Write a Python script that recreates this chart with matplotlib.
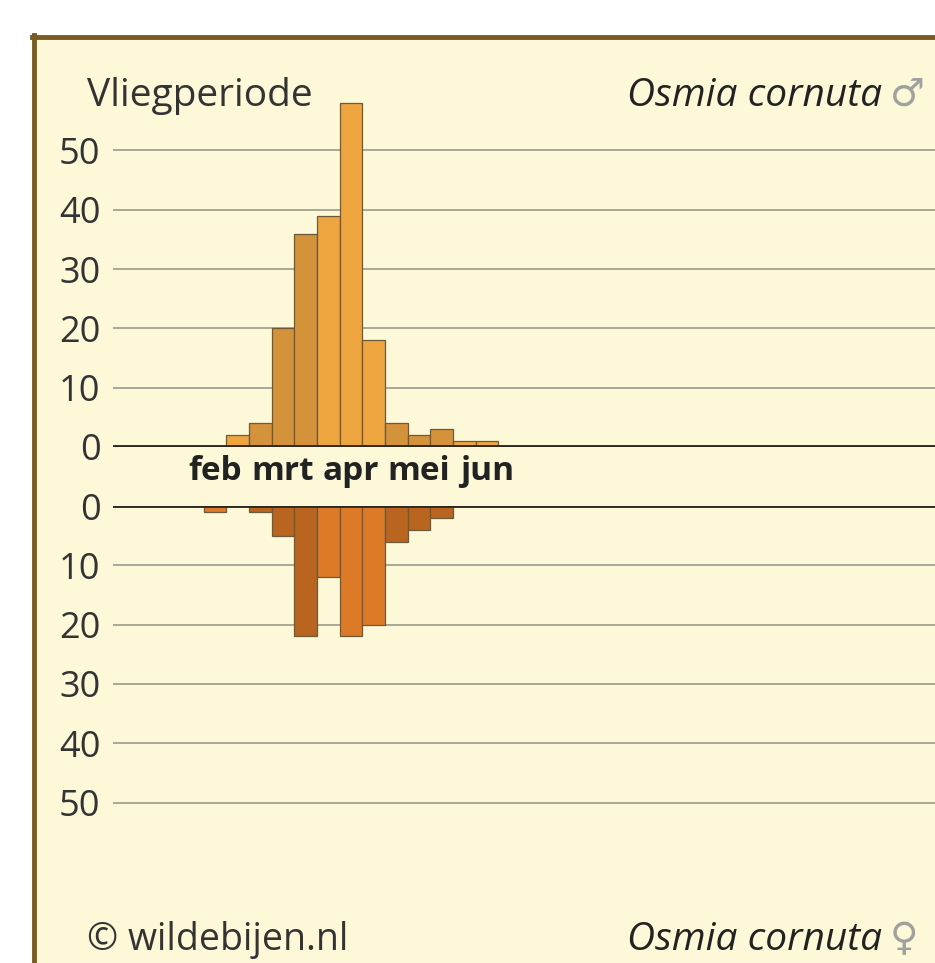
import matplotlib
matplotlib.use("Agg")
import matplotlib.pyplot as plt
from matplotlib.patches import Rectangle
from matplotlib.lines import Line2D

plt.rcParams['font.family'] = ['Open Sans', 'DejaVu Sans']

# --- data: 36 ten-day periods (3 per month), Jan..Dec ---
month_labels = ["feb", "mrt", "apr", "mei", "jun"]
month_index = [1, 2, 3, 4, 5]          # month number (0 = jan) of each label
males = [0, 0, 0, 0, 0, 2, 4, 20, 36, 39, 58, 18, 4, 2, 3, 1, 1] + [0] * 19
females = [0, 0, 0, 0, 1, 0, 1, 5, 22, 12, 22, 20, 6, 4, 2] + [0] * 21
y_ticks = [0, 10, 20, 30, 40, 50]

W, H = 935, 963
fig = plt.figure(figsize=(W / 100, H / 100), dpi=100)
fig.patch.set_facecolor("white")

# cream panel with brown frame (left & top)
cream = "#FDF8D8"
fig.add_artist(Rectangle((32 / W, 0), 1, 1 - 37 / H, transform=fig.transFigure,
                         facecolor=cream, edgecolor="none", zorder=0))
fig.add_artist(Line2D([34 / W, 34 / W], [0, 1 - 35 / H], transform=fig.transFigure,
                      color="#7A5C22", lw=3.5, zorder=1))
fig.add_artist(Line2D([32 / W, 1], [1 - 37 / H, 1 - 37 / H], transform=fig.transFigure,
                      color="#7A5C22", lw=3.5, zorder=1))

x0 = 113
pxw = 22.67
xmax = (W - x0) / pxw
unit = 5.93

def month_of(i):
    return i // 3

male_cols = ["#EEA540" if month_of(i) % 2 == 1 else "#D4923A" for i in range(36)]
fem_cols = ["#DC7A28" if month_of(i) % 2 == 1 else "#B9651F" for i in range(36)]

# top axes (males)
top_y0, top_y1 = 447, 90
ax1 = fig.add_axes([x0 / W, 1 - top_y0 / H, (W - x0) / W, (top_y0 - top_y1) / H])
ax1.set_ylim(0, (top_y0 - top_y1) / unit)
# bottom axes (females)
bot_y0, bot_y1 = 506, 860
ax2 = fig.add_axes([x0 / W, 1 - bot_y1 / H, (W - x0) / W, (bot_y1 - bot_y0) / H])
ax2.set_ylim((bot_y1 - bot_y0) / unit, 0)

for ax, vals, cols in [(ax1, males, male_cols), (ax2, females, fem_cols)]:
    ax.set_facecolor("none")
    ax.set_xlim(0, xmax)
    for s in ax.spines.values():
        s.set_visible(False)
    for t in y_ticks[1:]:
        ax.axhline(t, color="#A9A796", lw=1.4, zorder=1)
    ax.axhline(0, color="#2E2A22", lw=2.8, zorder=3)
    idx = [i for i, v in enumerate(vals) if v > 0]
    ax.bar(idx, [vals[i] for i in idx], width=1, align="edge",
           color=[cols[i] for i in idx], edgecolor="#6B5A3A", linewidth=0.9, zorder=2)
    ax.set_yticks(y_ticks)
    ax.set_yticklabels([str(t) for t in y_ticks], fontsize=26, color="#333333")
    ax.tick_params(axis="y", length=0, pad=9)

ax1.set_xticks([m * 3 + 1.5 for m in month_index])
ax1.set_xticklabels(month_labels, fontsize=24, fontweight="bold", color="#222222")
ax1.tick_params(axis="x", length=0, pad=6)
ax2.set_xticks([])

txt = "#333333"
sym_family = ["DejaVu Sans"]
fig.text(87 / W, 1 - 106 / H, "Vliegperiode", fontsize=28, color=txt, va="baseline", ha="left")
fig.text(882 / W, 1 - 106 / H, "Osmia cornuta", fontsize=28, style="italic", color="#222222",
         va="baseline", ha="right")
fig.text(890 / W, 1 - 106 / H, "♂", fontsize=28, color="#A0A0A0", va="baseline", ha="left",
         family=sym_family)
fig.text(87 / W, 1 - 950 / H, "© wildebijen.nl", fontsize=27, color=txt, va="baseline", ha="left")
fig.text(882 / W, 1 - 950 / H, "Osmia cornuta", fontsize=28, style="italic", color="#222222",
         va="baseline", ha="right")
fig.text(890 / W, 1 - 950 / H, "♀", fontsize=28, color="#A0A0A0", va="baseline", ha="left",
         family=sym_family)

fig.savefig("out.png", dpi=100, facecolor="white")
